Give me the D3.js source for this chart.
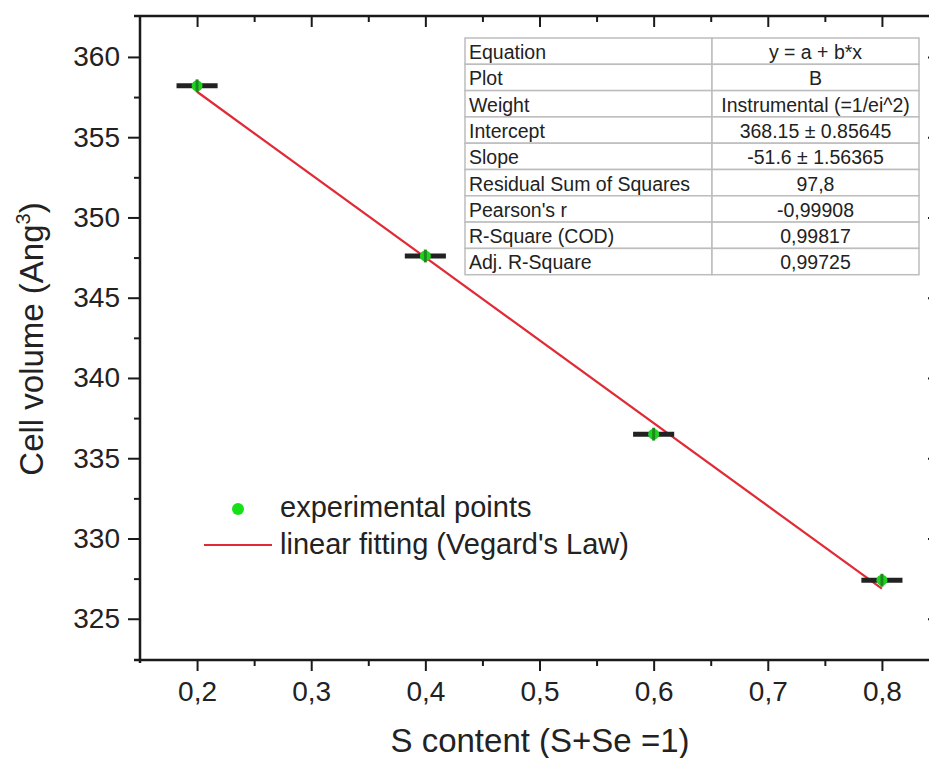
<!DOCTYPE html>
<html>
<head>
<meta charset="utf-8">
<script src="https://cdn.jsdelivr.net/npm/d3@7"></script>
<style>
  html, body { margin: 0; padding: 0; background: #fff; }
  svg { display: block; font-family: "Liberation Sans", Arial, sans-serif; }
</style>
</head>
<body>
<svg id="chart" width="929" height="758"></svg>
<script>
// Experimental cell volumes vs. S content
const sContent   = [0.2, 0.4, 0.6, 0.8];
const cellVolume = [358.2, 347.6, 336.5, 327.4];
const xErr       = [0.018, 0.018, 0.018, 0.018];
const yErr       = [0.4, 0.4, 0.4, 0.4];

// Linear fit y = a + b*x
const fitIntercept = 368.15;
const fitSlope = -51.6;
const fitRange = [0.2, 0.8];

// Fit statistics table
const tableLabels = ["Equation", "Plot", "Weight", "Intercept", "Slope",
  "Residual Sum of Squares", "Pearson's r", "R-Square (COD)", "Adj. R-Square"];
const tableValues = ["y = a + b*x", "B", "Instrumental (=1/ei^2)",
  "368.15 \u00b1 0.85645", "-51.6 \u00b1 1.56365", "97,8", "-0,99908", "0,99817", "0,99725"];

// Axis ticks
const xTicks = [0.2, 0.3, 0.4, 0.5, 0.6, 0.7, 0.8];
const xMinorTicks = [0.25, 0.35, 0.45, 0.55, 0.65, 0.75, 0.85];
const yTicks = [325, 330, 335, 340, 345, 350, 355, 360];
const yMinorTicks = [327.5, 332.5, 337.5, 342.5, 347.5, 352.5, 357.5];

const svg = d3.select("#chart");
const plot = { left: 140, right: 939, top: 16, bottom: 660 };

const x = d3.scaleLinear().domain([0.15, 0.85]).range([plot.left, plot.right]);
const y = d3.scaleLinear().domain([322.43, 362.55]).range([plot.bottom, plot.top]);

const fmtX = v => d3.format(".1f")(v).replace(".", ",");
const axisColor = "#1a1a1a";

function styleAxis(g) {
  g.select(".domain").remove();
  g.selectAll(".tick line").attr("stroke", axisColor).attr("stroke-width", 2);
  g.selectAll(".tick text").attr("fill", "#222").attr("font-size", 28)
    .attr("font-family", "'Liberation Sans', Arial, sans-serif");
}
function minor(g) {
  g.select(".domain").remove();
  g.selectAll("line").attr("stroke", axisColor).attr("stroke-width", 2);
}

// Bottom axis
svg.append("g").attr("transform", `translate(0,${plot.bottom})`)
  .call(d3.axisBottom(x).tickValues(xTicks).tickFormat(fmtX).tickSize(11).tickPadding(10))
  .call(styleAxis);
svg.append("g").attr("transform", `translate(0,${plot.bottom})`)
  .call(d3.axisBottom(x).tickValues(xMinorTicks).tickFormat("").tickSize(6)).call(minor);

// Top axis (ticks inward)
svg.append("g").attr("transform", `translate(0,${plot.top})`)
  .call(d3.axisBottom(x).tickValues(xTicks).tickFormat("").tickSize(11)).call(styleAxis);
svg.append("g").attr("transform", `translate(0,${plot.top})`)
  .call(d3.axisBottom(x).tickValues(xMinorTicks).tickFormat("").tickSize(6)).call(minor);

// Left axis
svg.append("g").attr("transform", `translate(${plot.left},0)`)
  .call(d3.axisLeft(y).tickValues(yTicks).tickFormat(d3.format("d")).tickSize(12).tickPadding(8))
  .call(styleAxis);
svg.append("g").attr("transform", `translate(${plot.left},0)`)
  .call(d3.axisLeft(y).tickValues(yMinorTicks).tickFormat("").tickSize(6)).call(minor);

// Right axis (ticks inward)
svg.append("g").attr("transform", `translate(${plot.right},0)`)
  .call(d3.axisRight(y).tickValues(yTicks).tickFormat("").tickSize(-11)).call(styleAxis);
svg.append("g").attr("transform", `translate(${plot.right},0)`)
  .call(d3.axisRight(y).tickValues(yMinorTicks).tickFormat("").tickSize(-6)).call(minor);

// Frame lines
const frame = svg.append("g").attr("stroke", axisColor).attr("stroke-width", 2.5);
frame.append("line").attr("x1", plot.left - 6).attr("x2", plot.right).attr("y1", plot.bottom).attr("y2", plot.bottom);
frame.append("line").attr("x1", plot.left - 6).attr("x2", plot.right).attr("y1", plot.top).attr("y2", plot.top);
frame.append("line").attr("x1", plot.left).attr("x2", plot.left).attr("y1", plot.top).attr("y2", plot.bottom + 3);
frame.append("line").attr("x1", plot.right).attr("x2", plot.right).attr("y1", plot.top).attr("y2", plot.bottom);

// Axis titles
svg.append("text")
  .attr("x", 540).attr("y", 752)
  .attr("text-anchor", "middle").attr("font-size", 33).attr("fill", "#222")
  .text("S content (S+Se =1)");

const yTitle = svg.append("text")
  .attr("transform", "translate(43,339) rotate(-90)")
  .attr("text-anchor", "middle").attr("font-size", 33).attr("fill", "#222");
yTitle.append("tspan").text("Cell volume (Ang");
yTitle.append("tspan").attr("font-size", 20).attr("dy", -13).text("3");
yTitle.append("tspan").attr("dy", 13).text(")");

// Fit table
const table = { left: 465, right: 919, top: 38, rowH: 26.3, split: 712 };
const tg = svg.append("g");
tableLabels.forEach((lab, i) => {
  const ry = table.top + i * table.rowH;
  tg.append("rect")
    .attr("x", table.left).attr("y", ry)
    .attr("width", table.split - table.left).attr("height", table.rowH)
    .attr("fill", "#fff").attr("stroke", "#bdbdbd").attr("stroke-width", 1.5);
  tg.append("rect")
    .attr("x", table.split).attr("y", ry)
    .attr("width", table.right - table.split).attr("height", table.rowH)
    .attr("fill", "#fff").attr("stroke", "#bdbdbd").attr("stroke-width", 1.5);
  tg.append("text")
    .attr("x", table.left + 4).attr("y", ry + 21)
    .attr("font-size", 19.5).attr("fill", "#222").text(lab);
  tg.append("text")
    .attr("x", (table.split + table.right) / 2).attr("y", ry + 21)
    .attr("text-anchor", "middle").attr("font-size", 19.5).attr("fill", "#222").text(tableValues[i]);
});

// Fitted line
const fitColor = "#e02a35";
svg.append("line")
  .attr("x1", x(fitRange[0])).attr("y1", y(fitIntercept + fitSlope * fitRange[0]))
  .attr("x2", x(fitRange[1])).attr("y2", y(fitIntercept + fitSlope * fitRange[1]))
  .attr("stroke", fitColor).attr("stroke-width", 2.2);

// Experimental points with error bars
const pts = sContent.map((s, i) => ({ s, v: cellVolume[i], ex: xErr[i], ey: yErr[i] }));
const pg = svg.append("g");
pg.selectAll("line.xerr").data(pts).join("line").attr("class", "xerr")
  .attr("x1", d => x(d.s - d.ex)).attr("x2", d => x(d.s + d.ex))
  .attr("y1", d => y(d.v)).attr("y2", d => y(d.v))
  .attr("stroke", "#222").attr("stroke-width", 5);
pg.selectAll("circle").data(pts).join("circle")
  .attr("cx", d => x(d.s)).attr("cy", d => y(d.v)).attr("r", 5.5)
  .attr("fill", "#1fd21f");
pg.selectAll("line.yerr").data(pts).join("line").attr("class", "yerr")
  .attr("x1", d => x(d.s)).attr("x2", d => x(d.s))
  .attr("y1", d => y(d.v - d.ey)).attr("y2", d => y(d.v + d.ey))
  .attr("stroke", "#1d8a1d").attr("stroke-width", 3);

// Legend
const lg = svg.append("g");
lg.append("circle").attr("cx", 238).attr("cy", 509).attr("r", 6).attr("fill", "#16e016");
lg.append("text").attr("x", 280).attr("y", 517).attr("font-size", 29).attr("fill", "#222")
  .text("experimental points");
lg.append("line").attr("x1", 204).attr("x2", 272).attr("y1", 545).attr("y2", 545)
  .attr("stroke", fitColor).attr("stroke-width", 2.2);
lg.append("text").attr("x", 280).attr("y", 554).attr("font-size", 29).attr("fill", "#222")
  .text("linear fitting (Vegard's Law)");
</script>
</body>
</html>
